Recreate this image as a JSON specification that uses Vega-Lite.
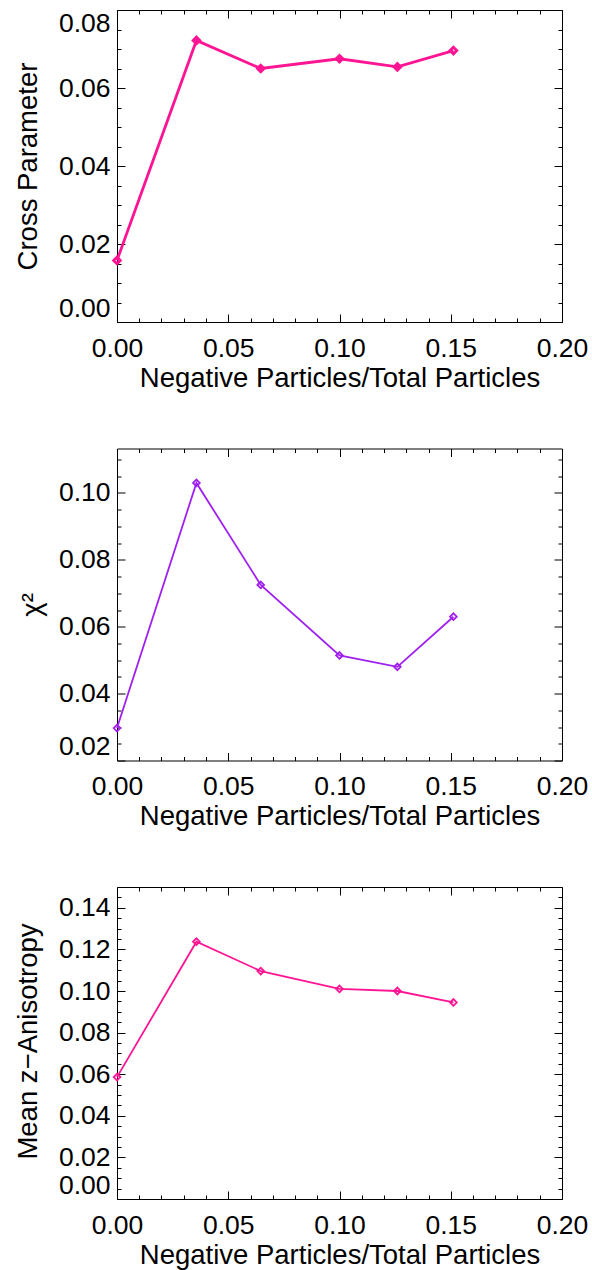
{
  "$schema": "https://vega.github.io/schema/vega-lite/v6.json",
  "autosize": {"type": "none"},
  "padding": {"left": 117, "top": 10, "right": 475, "bottom": 1260},
  "background": "white",
  "bounds": "flush",
  "spacing": 126.5,
  "config": {
    "view": {"stroke": null},
    "font": "Liberation Sans",
    "axis": {"grid": false, "domainColor": "black", "tickColor": "black", "labelColor": "black", "titleColor": "black", "domainWidth": 1, "tickWidth": 1, "labelFont": "Liberation Sans", "titleFont": "Liberation Sans", "labelFontSize": 26.5, "titleFontSize": 27.5, "titleFontWeight": "normal"}
  },
  "datasets": {
    "d": [
      {"x": 0.0, "cross": 0.0158, "chi2": 0.0297, "aniso": 0.0586},
      {"x": 0.0357, "cross": 0.0722, "chi2": 0.1030, "aniso": 0.1237},
      {"x": 0.0646, "cross": 0.0650, "chi2": 0.0725, "aniso": 0.1096},
      {"x": 0.1000, "cross": 0.0675, "chi2": 0.0514, "aniso": 0.1010},
      {"x": 0.1260, "cross": 0.0654, "chi2": 0.0480, "aniso": 0.1000},
      {"x": 0.1512, "cross": 0.0696, "chi2": 0.0630, "aniso": 0.0945}
    ]
  },
  "vconcat": [
    {
      "width": 445, "height": 312,
      "data": {"name": "d"},
      "resolve": {"axis": {"x": "independent", "y": "independent"}},
      "layer": [
        {"mark": {"type": "line", "color": "#FF1493", "strokeWidth": 2.8},
         "encoding": {
           "x": {"field": "x", "type": "quantitative", "scale": {"domain": [0, 0.2], "nice": false, "zero": false},
                 "axis": {"orient": "bottom", "values": [0, 0.05, 0.1, 0.15, 0.2], "format": ".2f", "tickSize": -8, "labelPadding": 42, "labelBaseline": "alphabetic", "labelFlush": false, "title": "Negative Particles/Total Particles", "titleX": 222.5, "titleY": 64, "titleBaseline": "alphabetic", "titleAlign": "center"}},
           "y": {"field": "cross", "type": "quantitative", "scale": {"domain": [0, 0.08], "nice": false, "zero": false},
                 "axis": {"orient": "left", "values": [0, 0.02, 0.04, 0.06, 0.08], "format": ".2f", "tickSize": -8, "labelPadding": 15, "labelFlush": true, "labelFlushOffset": 0, "title": "Cross Parameter", "titleX": -81, "titleY": 156, "titleAngle": -90, "titleBaseline": "alphabetic", "titleAlign": "center"}}
         }},
        {"mark": {"type": "point", "shape": "diamond", "filled": false, "color": "#FF1493", "strokeWidth": 2.8, "size": 45, "opacity": 1},
         "encoding": {
           "x": {"field": "x", "type": "quantitative", "axis": {"orient": "bottom", "values": [0.01,0.02,0.03,0.04,0.06,0.07,0.08,0.09,0.11,0.12,0.13,0.14,0.16,0.17,0.18,0.19], "tickSize": -4, "labels": false, "domain": false, "title": null}},
           "y": {"field": "cross", "type": "quantitative", "axis": {"orient": "left", "values": [0.005,0.01,0.015,0.025,0.03,0.035,0.045,0.05,0.055,0.065,0.07,0.075], "tickSize": -4, "labels": false, "domain": false, "title": null}}
         }},
        {"mark": {"type": "point", "opacity": 0},
         "encoding": {
           "x": {"field": "x", "type": "quantitative", "axis": {"orient": "top", "values": [0, 0.05, 0.1, 0.15, 0.2], "tickSize": -8, "labels": false, "title": null}},
           "y": {"field": "cross", "type": "quantitative", "axis": {"orient": "right", "values": [0, 0.02, 0.04, 0.06, 0.08], "tickSize": -8, "labels": false, "title": null}}
         }},
        {"mark": {"type": "point", "opacity": 0},
         "encoding": {
           "x": {"field": "x", "type": "quantitative", "axis": {"orient": "top", "values": [0.01,0.02,0.03,0.04,0.06,0.07,0.08,0.09,0.11,0.12,0.13,0.14,0.16,0.17,0.18,0.19], "tickSize": -4, "labels": false, "domain": false, "title": null}},
           "y": {"field": "cross", "type": "quantitative", "axis": {"orient": "right", "values": [0.005,0.01,0.015,0.025,0.03,0.035,0.045,0.05,0.055,0.065,0.07,0.075], "tickSize": -4, "labels": false, "domain": false, "title": null}}
         }}
      ]
    },
    {
      "width": 445, "height": 312,
      "data": {"name": "d"},
      "resolve": {"axis": {"x": "independent", "y": "independent"}},
      "layer": [
        {"mark": {"type": "line", "color": "#A020F0", "strokeWidth": 1.8},
         "encoding": {
           "x": {"field": "x", "type": "quantitative", "scale": {"domain": [0, 0.2], "nice": false, "zero": false},
                 "axis": {"orient": "bottom", "values": [0, 0.05, 0.1, 0.15, 0.2], "format": ".2f", "tickSize": -8, "labelPadding": 42, "labelBaseline": "alphabetic", "labelFlush": false, "title": "Negative Particles/Total Particles", "titleX": 222.5, "titleY": 64, "titleBaseline": "alphabetic", "titleAlign": "center"}},
           "y": {"field": "chi2", "type": "quantitative", "scale": {"domain": [0.02, 0.1133], "nice": false, "zero": false},
                 "axis": {"orient": "left", "values": [0.02, 0.04, 0.06, 0.08, 0.1], "format": ".2f", "tickSize": -8, "labelPadding": 15, "labelFlush": true, "labelFlushOffset": 0, "title": "χ²", "titleX": -77, "titleY": 156, "titleAngle": -90, "titleBaseline": "alphabetic", "titleAlign": "center"}}
         }},
        {"mark": {"type": "point", "shape": "diamond", "filled": false, "color": "#A020F0", "strokeWidth": 1.8, "size": 45, "opacity": 1},
         "encoding": {
           "x": {"field": "x", "type": "quantitative", "axis": {"orient": "bottom", "values": [0.01,0.02,0.03,0.04,0.06,0.07,0.08,0.09,0.11,0.12,0.13,0.14,0.16,0.17,0.18,0.19], "tickSize": -4, "labels": false, "domain": false, "title": null}},
           "y": {"field": "chi2", "type": "quantitative", "axis": {"orient": "left", "values": [0.025,0.03,0.035,0.045,0.05,0.055,0.065,0.07,0.075,0.085,0.09,0.095,0.105,0.11], "tickSize": -4, "labels": false, "domain": false, "title": null}}
         }},
        {"mark": {"type": "point", "opacity": 0},
         "encoding": {
           "x": {"field": "x", "type": "quantitative", "axis": {"orient": "top", "values": [0, 0.05, 0.1, 0.15, 0.2], "tickSize": -8, "labels": false, "title": null}},
           "y": {"field": "chi2", "type": "quantitative", "axis": {"orient": "right", "values": [0.02, 0.04, 0.06, 0.08, 0.1], "tickSize": -8, "labels": false, "title": null}}
         }},
        {"mark": {"type": "point", "opacity": 0},
         "encoding": {
           "x": {"field": "x", "type": "quantitative", "axis": {"orient": "top", "values": [0.01,0.02,0.03,0.04,0.06,0.07,0.08,0.09,0.11,0.12,0.13,0.14,0.16,0.17,0.18,0.19], "tickSize": -4, "labels": false, "domain": false, "title": null}},
           "y": {"field": "chi2", "type": "quantitative", "axis": {"orient": "right", "values": [0.025,0.03,0.035,0.045,0.05,0.055,0.065,0.07,0.075,0.085,0.09,0.095,0.105,0.11], "tickSize": -4, "labels": false, "domain": false, "title": null}}
         }}
      ]
    },
    {
      "width": 445, "height": 312,
      "data": {"name": "d"},
      "resolve": {"axis": {"x": "independent", "y": "independent"}},
      "layer": [
        {"mark": {"type": "line", "color": "#FF1493", "strokeWidth": 1.8},
         "encoding": {
           "x": {"field": "x", "type": "quantitative", "scale": {"domain": [0, 0.2], "nice": false, "zero": false},
                 "axis": {"orient": "bottom", "values": [0, 0.05, 0.1, 0.15, 0.2], "format": ".2f", "tickSize": -8, "labelPadding": 42, "labelBaseline": "alphabetic", "labelFlush": false, "title": "Negative Particles/Total Particles", "titleX": 222.5, "titleY": 64, "titleBaseline": "alphabetic", "titleAlign": "center"}},
           "y": {"field": "aniso", "type": "quantitative", "scale": {"domain": [0, 0.15], "nice": false, "zero": false},
                 "axis": {"orient": "left", "values": [0, 0.02, 0.04, 0.06, 0.08, 0.1, 0.12, 0.14], "format": ".2f", "tickSize": -8, "labelPadding": 15, "labelFlush": true, "labelFlushOffset": 0, "title": "Mean z−Anisotropy", "titleX": -81, "titleY": 154, "titleAngle": -90, "titleBaseline": "alphabetic", "titleAlign": "center"}}
         }},
        {"mark": {"type": "point", "shape": "diamond", "filled": false, "color": "#FF1493", "strokeWidth": 1.8, "size": 45, "opacity": 1},
         "encoding": {
           "x": {"field": "x", "type": "quantitative", "axis": {"orient": "bottom", "values": [0.01,0.02,0.03,0.04,0.06,0.07,0.08,0.09,0.11,0.12,0.13,0.14,0.16,0.17,0.18,0.19], "tickSize": -4, "labels": false, "domain": false, "title": null}},
           "y": {"field": "aniso", "type": "quantitative", "axis": {"orient": "left", "values": [0.005,0.01,0.015,0.025,0.03,0.035,0.045,0.05,0.055,0.065,0.07,0.075,0.085,0.09,0.095,0.105,0.11,0.115,0.125,0.13,0.135,0.145], "tickSize": -4, "labels": false, "domain": false, "title": null}}
         }},
        {"mark": {"type": "point", "opacity": 0},
         "encoding": {
           "x": {"field": "x", "type": "quantitative", "axis": {"orient": "top", "values": [0, 0.05, 0.1, 0.15, 0.2], "tickSize": -8, "labels": false, "title": null}},
           "y": {"field": "aniso", "type": "quantitative", "axis": {"orient": "right", "values": [0, 0.02, 0.04, 0.06, 0.08, 0.1, 0.12, 0.14], "tickSize": -8, "labels": false, "title": null}}
         }},
        {"mark": {"type": "point", "opacity": 0},
         "encoding": {
           "x": {"field": "x", "type": "quantitative", "axis": {"orient": "top", "values": [0.01,0.02,0.03,0.04,0.06,0.07,0.08,0.09,0.11,0.12,0.13,0.14,0.16,0.17,0.18,0.19], "tickSize": -4, "labels": false, "domain": false, "title": null}},
           "y": {"field": "aniso", "type": "quantitative", "axis": {"orient": "right", "values": [0.005,0.01,0.015,0.025,0.03,0.035,0.045,0.05,0.055,0.065,0.07,0.075,0.085,0.09,0.095,0.105,0.11,0.115,0.125,0.13,0.135,0.145], "tickSize": -4, "labels": false, "domain": false, "title": null}}
         }}
      ]
    }
  ]
}
